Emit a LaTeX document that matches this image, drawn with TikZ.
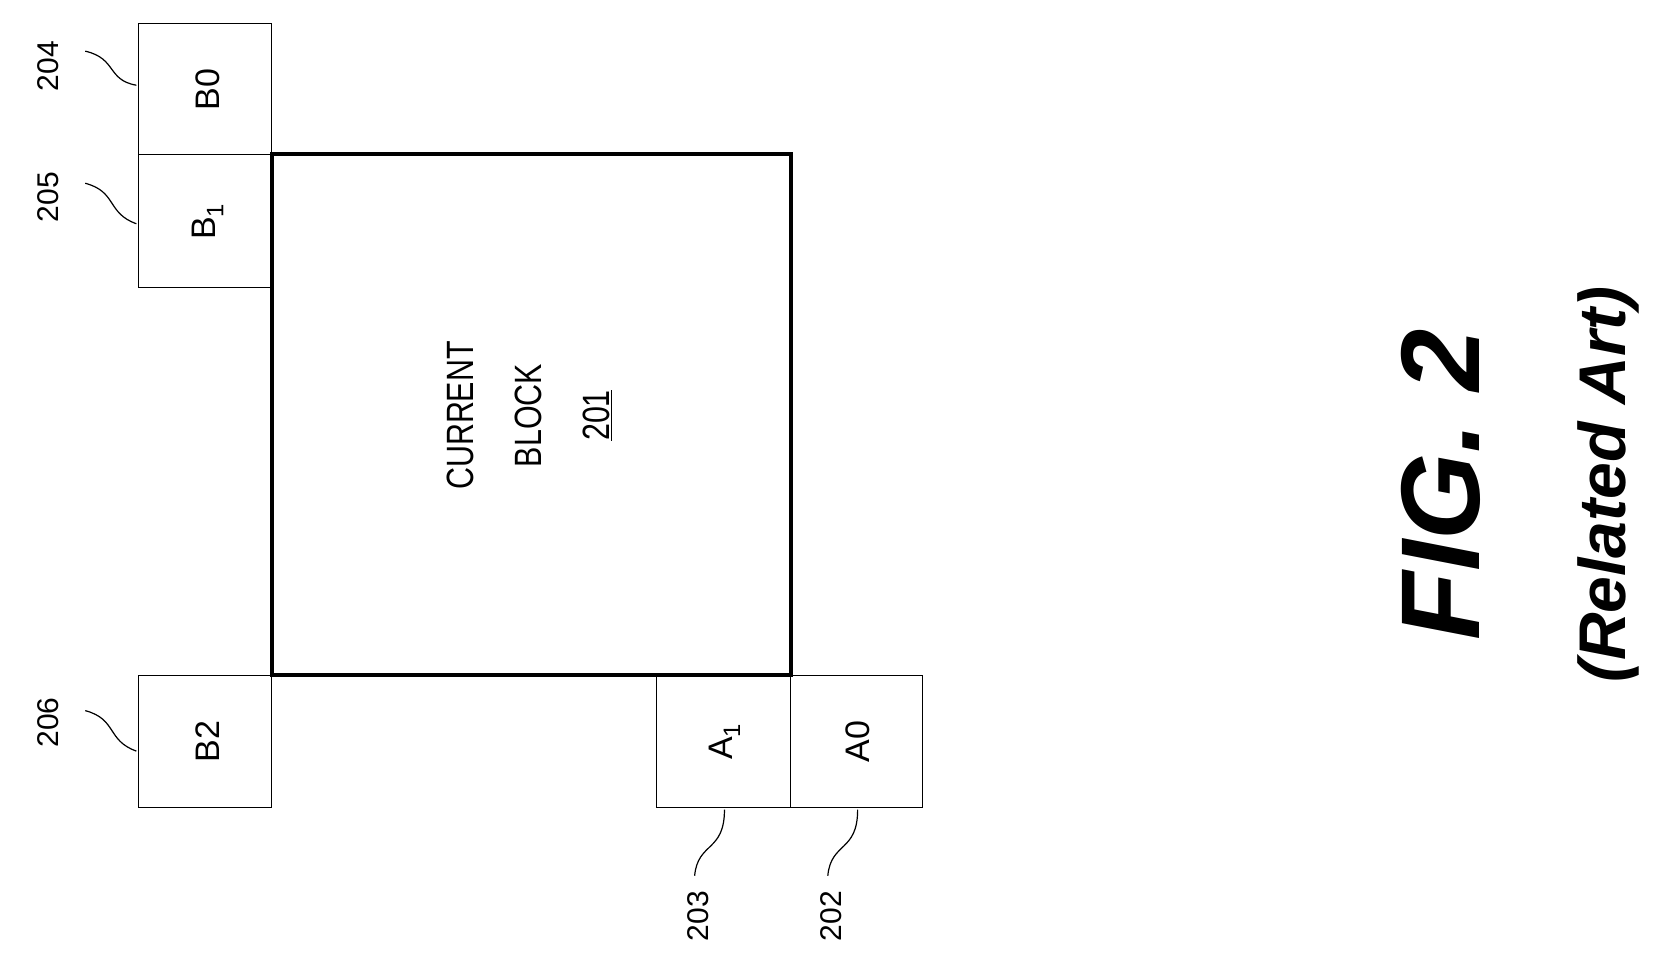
\documentclass[tikz,border=0pt]{standalone}
\usepackage{fontspec}
\setmainfont{Liberation Sans}
\begin{document}
\begin{tikzpicture}[x=1.065pt,y=-1.065pt,
  nb/.style={draw,line width=1.5pt},
  lbl/.style={rotate=90,font=\fontsize{30}{30}\selectfont},
  btxt/.style={rotate=90,font=\fontsize{34}{34}\selectfont},
  lead/.style={line width=1.2pt}]
\useasboundingbox (0,0) rectangle (1560,906);
\draw[nb] (130,22) rectangle (255,145);
\draw[nb] (130,145) rectangle (255,270);
\draw[nb] (130,634) rectangle (255,758);
\draw[nb] (616,634) rectangle (742,758);
\draw[nb] (742,634) rectangle (866,758);
\draw[line width=4pt] (255,145) rectangle (742,634);
\node[btxt] (b0) at (195,84) {B0};
\node[btxt] (b1) at (195,208) {B\textsubscript{1}};
\node[btxt] (b2) at (195,696) {B2};
\node[btxt] (a1) at (680,696) {A\textsubscript{1}};
\node[btxt] (a0) at (805,696) {A0};
\node[rotate=90,align=center,font=\fontsize{38}{68}\selectfont,xscale=0.8] (cb) at (497,390) {CURRENT\\BLOCK\\\underline{201}};
\node[lbl] (l204) at (45,62) {204};
\node[lbl] (l205) at (45,185) {205};
\node[lbl] (l206) at (45,678) {206};
\node[lbl] (l203) at (655,860) {203};
\node[lbl] (l202) at (780,860) {202};
\draw[lead] (80,48) .. controls (110,55) and (100,75) .. (128,80);
\draw[lead] (80,172) .. controls (110,180) and (100,200) .. (128,210);
\draw[lead] (80,667) .. controls (110,675) and (100,695) .. (128,705);
\draw[lead] (680,760) .. controls (680,800) and (655,790) .. (652,822);
\draw[lead] (805,760) .. controls (805,800) and (780,790) .. (777,822);
\node[rotate=90,font=\bfseries\itshape\fontsize{112}{112}\selectfont] (fig) at (1352,455) {FIG. 2};
\node[rotate=90,font=\bfseries\itshape\fontsize{66}{66}\selectfont] (ra) at (1510,455) {(Related Art)};
\end{tikzpicture}
\end{document}
